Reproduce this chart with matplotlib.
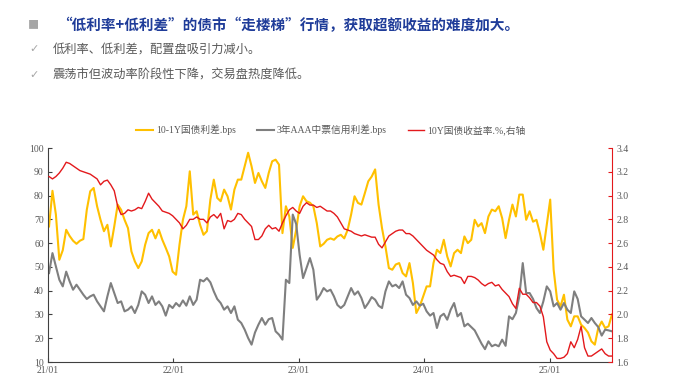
import matplotlib
matplotlib.use("Agg")
import matplotlib.pyplot as plt
import matplotlib.dates as mdates
import numpy as np
import pandas as pd

# data, one value every 10 days from 2021-01-04
dates = pd.date_range("2021-01-04", periods=165, freq="10D")

spread_10_1 = [
    67, 82, 72, 53, 57, 65.6, 63, 61, 59.7, 61, 61.7, 74, 81.8, 83.2, 75.5, 69.8, 65, 67.7, 58.6, 67,
    76.2, 74, 69.8, 66.3, 56.5, 52.3, 49.5, 52.3, 59.3, 64.2, 65.6, 62, 65.6, 61.4, 58, 54.4, 48, 46.7, 59.3, 69.8,
    75.5, 90.2, 72, 73.4, 67.7, 63.5, 65, 78.3, 86.7, 79, 77.6, 82.5, 79.7, 74.1, 82.5, 86.7, 86.7, 92.3, 98, 92.3,
    85.3, 89.5, 86, 83.2, 89.5, 94.4, 95.1, 93, 64.2, 75.5, 71.2, 58, 65.6, 75.5, 79.7, 77.6, 77, 75.5, 68.4, 58.6,
    59.7, 61.4, 62, 61.4, 62.8, 63.5, 62, 65.6, 72, 79.7, 76.9, 76.2, 81, 86, 88, 91, 76.2, 66.3, 58.6, 49.5,
    48.8, 51, 51.6, 47.4, 46, 51.6, 43.2, 30.6, 33.4, 37.6, 41.8, 41.8, 51.6, 57.2, 55.8, 61.4, 54.4, 50.2, 55.8, 57.2,
    55.8, 62.8, 60, 61.4, 69.8, 67, 68.4, 64.2, 71.2, 74.1, 73.4, 75.5, 70.5, 62.1, 69.8, 76.2, 71.2, 80.4, 80.4, 69.8,
    73.4, 69, 69.8, 64.2, 57.2, 67.7, 78.3, 48.8, 36.2, 33.4, 38.3, 27.8, 25, 29.2, 29.2, 25.7, 24.3, 22.4, 18.7, 17.3,
    24.3, 27, 24.3, 25, 30,
]

spread_aaa_3y = [
    47.4, 55.8, 50.2, 44.6, 41.8, 48, 43.9, 40.4, 42.5, 40.4, 38.3, 36.5, 37.6, 38.3, 35.5, 33.4, 31.3, 37.6, 43.2, 39,
    34.8, 35.5, 31.3, 32, 33.4, 30.6, 34, 39.7, 38.3, 34.8, 37.6, 34, 35.5, 33.4, 29.5, 34, 32.7, 34.8, 33.4, 35.9,
    33.7, 37.6, 34, 36.2, 44.6, 43.9, 45.3, 43.5, 39.7, 36.5, 34.8, 32, 33.4, 30.6, 33.4, 27.8, 26.4, 23.6, 20.1, 17.3,
    22.4, 25.7, 28.5, 25.7, 28, 28.5, 22.9, 21.5, 19.4, 44.6, 43.2, 72, 68, 55.1, 45.3, 49.5, 53.7, 48.8, 36.2, 38.3,
    41.1, 39.7, 40.4, 37.6, 34, 32.7, 34, 37.6, 41.1, 38.3, 39.7, 36.9, 32.7, 34.8, 37.3, 36.2, 33.7, 32.7, 39.7, 43.9,
    41.8, 42.5, 41.1, 43.9, 38.3, 36.9, 34, 35.5, 33.7, 34.5, 31.3, 29.5, 30.6, 24.3, 29.2, 30.3, 27.8, 32, 34.8, 29.2,
    30.6, 25, 26.1, 24.7, 23.3, 20.5, 17.7, 15.4, 18.7, 16.6, 17.3, 16.6, 19.4, 16.8, 29.2, 28, 30.6, 37.6, 51.6, 39,
    39, 36.5, 32.7, 30.6, 35.5, 41.8, 39.7, 33.4, 34.8, 32, 34.8, 32, 30.6, 39.7, 36.5, 29.2, 27.8, 26.4, 28.5, 26.4,
    24.7, 21.1, 23.6, 23.3, 22.9,
]

yield_10y = [
    3.16, 3.14, 3.16, 3.19, 3.23, 3.28, 3.27, 3.25, 3.23, 3.21, 3.20, 3.19, 3.18, 3.16, 3.14, 3.09, 3.12, 3.13, 3.09, 3.04,
    2.91, 2.84, 2.85, 2.88, 2.87, 2.88, 2.90, 2.89, 2.95, 3.02, 2.97, 2.94, 2.91, 2.87, 2.86, 2.85, 2.83, 2.80, 2.77, 2.72,
    2.75, 2.80, 2.80, 2.82, 2.80, 2.80, 2.77, 2.82, 2.84, 2.81, 2.85, 2.72, 2.79, 2.78, 2.80, 2.85, 2.84, 2.80, 2.77, 2.74,
    2.63, 2.63, 2.66, 2.72, 2.75, 2.72, 2.73, 2.70, 2.77, 2.83, 2.88, 2.90, 2.87, 2.85, 2.91, 2.94, 2.92, 2.92, 2.90, 2.91,
    2.89, 2.87, 2.87, 2.85, 2.82, 2.77, 2.72, 2.71, 2.70, 2.68, 2.67, 2.66, 2.67, 2.66, 2.65, 2.65, 2.59, 2.56, 2.61, 2.66,
    2.68, 2.70, 2.71, 2.71, 2.68, 2.68, 2.66, 2.63, 2.60, 2.57, 2.54, 2.52, 2.50, 2.46, 2.43, 2.42, 2.36, 2.32, 2.33, 2.32,
    2.31, 2.26, 2.32, 2.32, 2.31, 2.29, 2.26, 2.24, 2.26, 2.27, 2.24, 2.25, 2.21, 2.18, 2.15, 2.09, 2.05, 2.22, 2.17, 2.17,
    2.14, 2.10, 2.10, 2.07, 1.98, 1.77, 1.70, 1.67, 1.63, 1.63, 1.64, 1.67, 1.77, 1.72, 1.79, 1.90, 1.72, 1.65, 1.65, 1.67,
    1.69, 1.71, 1.67, 1.65, 1.65,
]

labels = ["10-1Y国债利差.bps", "3年AAA中票信用利差.bps", "10Y国债收益率.%,右轴"]

title = "“低利率+低利差”的债市“走楼梯”行情，获取超额收益的难度加大。"
bullets = ["低利率、低利差，配置盘吸引力减小。", "震荡市但波动率阶段性下降，交易盘热度降低。"]

# styles
c_yel = "#FFC000"
c_gry = "#7F7F7F"
c_red = "#E3191C"
cjk = ["Noto Sans CJK SC", "DejaVu Sans"]
serif = ["Liberation Serif", "Noto Sans CJK SC"]
font_tk = 7

fig = plt.figure(figsize=(7, 3.81), dpi=100)

# header texts
fig.text(28 / 700, 1 - 25 / 381, "■", color="#A6A6A6", fontsize=8, va="center", family=cjk)
fig.text(57 / 700, 1 - 25 / 381, title, color="#1F3C99", fontsize=10.5, fontweight="bold",
         va="center", family=cjk)
for k, b in enumerate(bullets):
    yy = 1 - (49 + 26 * k) / 381
    fig.text(29 / 700, yy, "✓", color="#A6A6A6", fontsize=8, va="center", family=["DejaVu Sans"])
    fig.text(53 / 700, yy, b, color="#595959", fontsize=8.8, va="center", family=cjk)

ax = fig.add_axes([48 / 700, 19 / 381, 564 / 700, 214 / 381])
ax2 = ax.twinx()

l1, = ax.plot(dates, spread_10_1, color=c_yel, lw=1.5, label=labels[0])
l2, = ax.plot(dates, spread_aaa_3y, color=c_gry, lw=1.5, label=labels[1])
l3, = ax2.plot(dates, yield_10y, color=c_red, lw=1.0, label=labels[2])

ax.set_ylim(10, 100)
ax.set_yticks(np.arange(10, 101, 10))
ax2.set_ylim(1.6, 3.4)
ax2.set_yticks(np.arange(1.6, 3.41, 0.2))
ax2.yaxis.set_major_formatter(matplotlib.ticker.FormatStrFormatter("%.1f"))

ax.set_xlim(pd.Timestamp("2021-01-01"), dates[-1])
ax.xaxis.set_major_locator(mdates.YearLocator())
ax.xaxis.set_major_formatter(mdates.DateFormatter("%y/%m"))

for a in (ax, ax2):
    a.spines["top"].set_visible(False)
    a.tick_params(direction="in", length=3, width=0.8, labelsize=font_tk, labelcolor="#595959", pad=3)
    for t in a.get_xticklabels() + a.get_yticklabels():
        t.set_family(serif)
ax.spines["left"].set_color("#404040")
ax.spines["bottom"].set_color("#404040")
ax.spines["right"].set_visible(False)
ax2.spines["left"].set_visible(False)
ax2.spines["bottom"].set_visible(False)
ax2.spines["right"].set_color(c_red)
ax2.tick_params(axis="y", color=c_red)
ax.tick_params(color="#404040")

leg = fig.legend(handles=[l1, l2, l3], loc="center", bbox_to_anchor=(331 / 700, 1 - 130 / 381),
                 ncol=3, frameon=False, handlelength=1.7, handletextpad=0.3, columnspacing=2.2,
                 prop={"family": serif, "size": 7})
for t in leg.get_texts():
    t.set_color("#595959")

fig.savefig("out.png", dpi=100)
